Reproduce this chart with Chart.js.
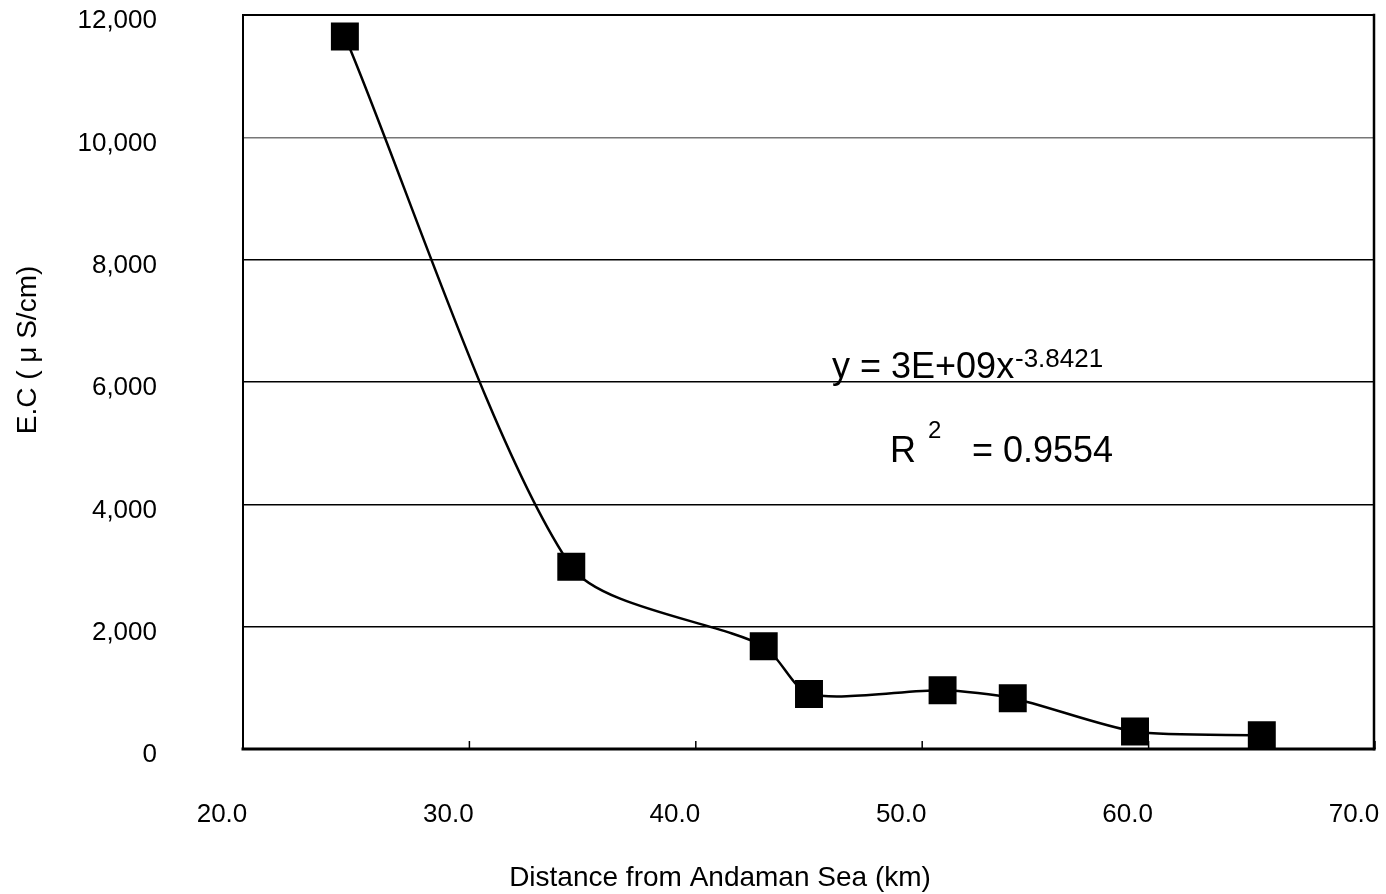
<!DOCTYPE html>
<html>
<head>
<meta charset="utf-8">
<script src="https://cdn.jsdelivr.net/npm/chart.js@4"></script>
<style>
  html, body { margin: 0; padding: 0; background: #fff; overflow: hidden; }
  #wrap { width: 1386px; height: 894px; }
  canvas { display: block; }
</style>
</head>
<body>
<div id="wrap"><canvas id="myChart" width="1386" height="894"></canvas></div>
<script>
// datos
const distanceKm = [24.5, 34.5, 43.0, 45.0, 50.9, 54.0, 59.4, 65.0];
const ecValues = [11650, 2980, 1680, 900, 960, 830, 285, 225];
const xTicks = [20, 30, 40, 50, 60, 70];
const yTicks = [0, 2000, 4000, 6000, 8000, 10000, 12000];
const xTitle = "Distance from Andaman Sea (km)";
const yTitle = "E.C ( \u03bc S/cm)";
const equationText = "y = 3E+09x";
const exponentText = "-3.8421";
const rSquaredText = "= 0.9554";

const fontName = "'Liberation Sans', Arial, sans-serif";

// marco, marcas del eje y textos extra
const extras = {
  id: "extras",
  beforeDatasetsDraw(chart) {
    const ctx = chart.ctx;
    const a = chart.chartArea;
    const xs = chart.scales.x;
    ctx.save();
    ctx.strokeStyle = "#000";
    ctx.lineCap = "square";
    const side = (x1, y1, x2, y2, w) => {
      ctx.lineWidth = w;
      ctx.beginPath();
      ctx.moveTo(x1, y1);
      ctx.lineTo(x2, y2);
      ctx.stroke();
    };
    side(a.left, a.top, a.right - 1, a.top, 2);
    side(a.left, a.top, a.left, a.bottom, 2);
    side(a.right - 1, a.top, a.right - 1, a.bottom, 2.5);
    side(a.left, a.bottom, a.right - 1, a.bottom, 3);
    ctx.lineCap = "butt";
    xTicks.forEach((t) => {
      const px = xs.getPixelForValue(t);
      side(px, a.bottom, px, a.bottom - 8, 1.5);
    });
    ctx.restore();
  },
  afterDraw(chart) {
    const ctx = chart.ctx;
    ctx.save();
    ctx.fillStyle = "#000";
    ctx.textBaseline = "alphabetic";
    // ecuacion de la tendencia
    ctx.font = "36px " + fontName;
    ctx.textAlign = "left";
    ctx.fillText(equationText, 832, 378);
    ctx.font = "26px " + fontName;
    ctx.fillText(exponentText, 1015, 367);
    ctx.font = "36px " + fontName;
    ctx.fillText("R", 890, 462);
    ctx.font = "24px " + fontName;
    ctx.fillText("2", 928, 438);
    ctx.font = "36px " + fontName;
    ctx.fillText(rSquaredText, 972, 462);
    // titulos de los ejes
    ctx.font = "28px " + fontName;
    ctx.textAlign = "center";
    ctx.textBaseline = "middle";
    ctx.fillText(xTitle, 720, 878);
    ctx.translate(28, 350);
    ctx.rotate(-Math.PI / 2);
    ctx.fillText(yTitle, 0, 0);
    ctx.restore();
  },
};

const points = distanceKm.map((d, i) => ({ x: d, y: ecValues[i] }));

const config = {
  type: "scatter",
  data: {
    datasets: [
      {
        label: "E.C",
        data: points,
        showLine: true,
        borderColor: "#000",
        backgroundColor: "#000",
        borderWidth: 2.5,
        tension: 0.25,
        pointStyle: "rect",
        pointRadius: 18,
        pointHoverRadius: 18,
        clip: false,
      },
    ],
  },
  options: {
    responsive: false,
    animation: false,
    layout: { autoPadding: false, padding: { top: 15, right: 11, left: 0, bottom: 0 } },
    plugins: { legend: { display: false }, tooltip: { enabled: false } },
    scales: {
      x: {
        type: "linear",
        min: 20,
        max: 70,
        afterBuildTicks: (scale) => {
          scale.ticks = xTicks.map((v) => ({ value: v }));
        },
        afterFit: (scale) => {
          scale.height = 145;
          scale.paddingLeft = 0;
          scale.paddingRight = 0;
        },
        grid: { display: false },
        border: { display: false },
        ticks: {
          autoSkip: false,
          maxRotation: 0,
          padding: 42,
          labelOffset: -21,
          color: "#000",
          font: { family: fontName, size: 26 },
          callback: (v) => Number(v).toFixed(1),
        },
      },
      y: {
        min: 0,
        max: 12000,
        afterBuildTicks: (scale) => {
          scale.ticks = yTicks.map((v) => ({ value: v }));
        },
        afterFit: (scale) => {
          scale.width = 243;
          scale.paddingTop = 0;
          scale.paddingBottom = 0;
        },
        border: { display: false },
        grid: {
          drawTicks: false,
          lineWidth: 1.5,
          color: (c) => {
            const v = c.tick ? c.tick.value : 0;
            if (v === 0 || v === 12000) return "rgba(0,0,0,0)";
            if (v === 10000) return "#777";
            return "#000";
          },
        },
        ticks: {
          padding: 86,
          labelOffset: 6,
          color: "#000",
          font: { family: fontName, size: 26 },
          callback: (v) => Number(v).toLocaleString("en-US"),
        },
      },
    },
  },
  plugins: [extras],
};

new Chart(document.getElementById("myChart"), config);
</script>
</body>
</html>
